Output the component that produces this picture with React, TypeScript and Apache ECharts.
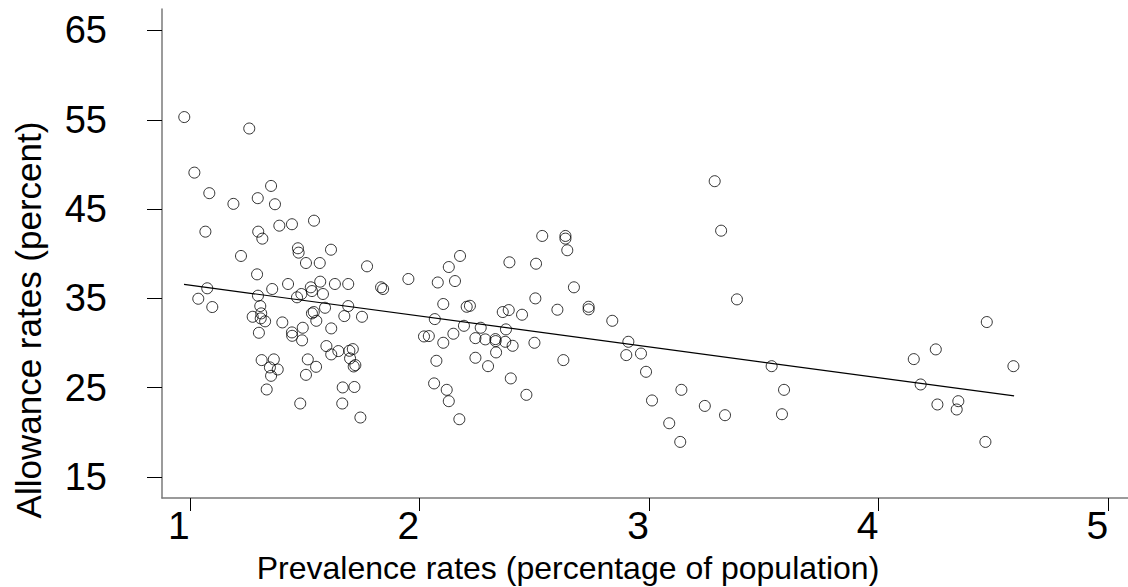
import React, { useEffect, useRef } from "react";
import * as echarts from "echarts";

// Prevalence rates (x) and allowance rates (y)
const prevalence: number[] = [
  0.976, 1.259, 1.02, 1.354, 1.085, 1.19, 1.296, 1.371, 1.541, 1.39, 1.445, 1.068, 1.298, 1.316, 1.471, 1.474,
  1.615, 1.223, 1.506, 1.566, 1.772, 1.293,
  1.076, 1.037, 1.098, 1.297, 1.359, 1.428, 1.467, 1.486, 1.527, 1.532, 1.568, 1.58, 1.632, 1.69, 1.833, 1.842,
  1.307, 1.274, 1.311, 1.309, 1.328, 1.301, 1.403, 1.492, 1.445, 1.446, 1.489, 1.532, 1.54, 1.551, 1.589, 1.616,
  1.69, 1.673, 1.75, 1.595, 1.616, 1.647, 1.695, 1.71, 1.698, 1.714, 1.721, 1.313, 1.366, 1.349, 1.383, 1.354,
  1.514, 1.55, 1.506, 1.335, 1.666, 1.717, 1.481, 1.664, 1.743,
  2.535, 2.636, 2.636, 2.644, 2.177, 2.128, 2.392, 2.508, 1.952, 2.08, 2.155,
  2.673, 2.505, 2.104, 2.206, 2.22, 2.363, 2.389, 2.447, 2.601, 2.737, 2.737, 2.84, 2.067, 2.02, 2.041, 2.104,
  2.148, 2.194, 2.267, 2.244, 2.287, 2.331, 2.332, 2.377, 2.374, 2.406, 2.334, 2.501, 2.074, 2.244, 2.299, 2.627,
  2.91, 2.901, 2.965, 2.064, 2.119, 2.128, 2.398, 2.466, 2.174,
  3.286, 3.314,
  3.383, 2.987, 3.141, 3.013, 3.243, 3.331, 3.088, 3.136, 3.534, 3.588, 3.579,
  4.471, 4.249, 4.153, 4.587, 4.183, 4.256, 4.347, 4.34, 4.465,
];

const allowance: number[] = [
  55.3, 54.02, 49.08, 47.59, 46.78, 45.58, 46.22, 45.54, 43.7, 43.14, 43.3, 42.47, 42.47, 41.69, 40.61, 40.12,
  40.45, 39.75, 38.96, 38.96, 38.59, 37.69,
  36.13, 34.96, 34.03, 35.3, 36.05, 36.61, 35.12, 35.49, 36.24, 35.82, 36.87, 35.49, 36.61, 36.61, 36.24, 36.05,
  34.14, 32.94, 33.32, 32.76, 32.43, 31.15, 32.31, 31.71, 31.19, 30.81, 30.3, 33.32, 33.47, 32.49, 33.95, 31.64,
  34.14, 33.02, 32.94, 29.66, 28.73, 29.1, 29.13, 29.32, 28.28, 27.38, 27.53, 28.09, 28.17, 27.27, 27.04, 26.33,
  28.17, 27.34, 26.44, 24.8, 25.03, 25.08, 23.23, 23.23, 21.66,
  41.99, 41.99, 41.69, 40.39, 39.75, 38.51, 39.04, 38.88, 37.17, 36.78, 36.94,
  36.24, 35.0, 34.37, 34.06, 34.17, 33.47, 33.69, 33.17, 33.73, 34.06, 33.77, 32.49, 32.68, 30.74, 30.78, 30.03,
  31.04, 31.93, 31.71, 30.55, 30.41, 30.44, 30.22, 31.53, 30.14, 29.69, 28.95, 30.03, 28.01, 28.35, 27.41, 28.09,
  30.14, 28.65, 28.82, 25.48, 24.76, 23.49, 26.04, 24.2, 21.47,
  48.12, 42.58,
  34.89, 26.78, 24.76, 23.57, 22.96, 21.92, 21.02, 18.93, 27.41, 24.76, 22.03,
  32.35, 29.29, 28.2, 27.41, 25.36, 23.12, 23.49, 22.56, 18.93,
];

// Fitted line end points
const fitX: number[] = [0.975, 4.59];
const fitY: number[] = [36.57, 24.08];

const xTicks: number[] = [1, 2, 3, 4, 5];
const yTicks: number[] = [15, 25, 35, 45, 55, 65];

const xTitle = "Prevalence rates (percentage of population)";
const yTitle = "Allowance rates (percent)";

export default function App() {
  const ref = useRef<HTMLDivElement>(null);

  useEffect(() => {
    if (!ref.current) return;
    const chart = echarts.init(ref.current, undefined, { renderer: "svg" });
    const font = "'Liberation Sans', Arial, sans-serif";
    const points = prevalence.map((x, i) => [x, allowance[i]]);
    const fit = fitX.map((x, i) => [x, fitY[i]]);

    chart.setOption({
      animation: false,
      backgroundColor: "#ffffff",
      grid: { left: 162, right: 0, top: 9, bottom: 89, containLabel: false },
      xAxis: {
        type: "value",
        min: 0.879,
        max: 5.086,
        splitLine: { show: false },
        axisLine: { show: true, onZero: false, lineStyle: { color: "#7a7a7a", width: 1.5 } },
        axisTick: { show: true, length: 13, customValues: xTicks, lineStyle: { color: "#000", width: 1 } },
        axisLabel: {
          customValues: xTicks,
          fontSize: 39,
          fontFamily: font,
          color: "#000",
          margin: 8,
          padding: [0, 22, 0, 0],
        },
      },
      yAxis: {
        type: "value",
        min: 12.65,
        max: 67.4,
        splitLine: { show: false },
        axisLine: { show: true, onZero: false, lineStyle: { color: "#7a7a7a", width: 1.5 } },
        axisTick: { show: true, length: 15, customValues: yTicks, lineStyle: { color: "#000", width: 1 } },
        axisLabel: {
          customValues: yTicks,
          fontSize: 38,
          fontFamily: font,
          color: "#000",
          margin: 55,
        },
      },
      graphic: [
        {
          type: "text",
          x: 568,
          y: 568,
          style: {
            text: xTitle,
            fontSize: 32,
            fontFamily: font,
            fill: "#000",
            textAlign: "center",
            textVerticalAlign: "middle",
          },
        },
        {
          type: "text",
          x: 28,
          y: 320,
          rotation: Math.PI / 2,
          style: {
            text: yTitle,
            fontSize: 35,
            fontFamily: font,
            fill: "#000",
            textAlign: "center",
            textVerticalAlign: "middle",
          },
        },
      ],
      series: [
        {
          type: "scatter",
          data: points,
          symbol: "circle",
          symbolSize: 11,
          itemStyle: { color: "transparent", borderColor: "#000", borderWidth: 1 },
          silent: true,
        },
        {
          type: "line",
          data: fit,
          showSymbol: false,
          symbol: "none",
          lineStyle: { color: "#000", width: 1.2 },
          silent: true,
        },
      ],
    });

    return () => chart.dispose();
  }, []);

  return (
    <div
      ref={ref}
      style={{ position: "absolute", left: 0, top: 0, width: 1128, height: 587 }}
    />
  );
}
